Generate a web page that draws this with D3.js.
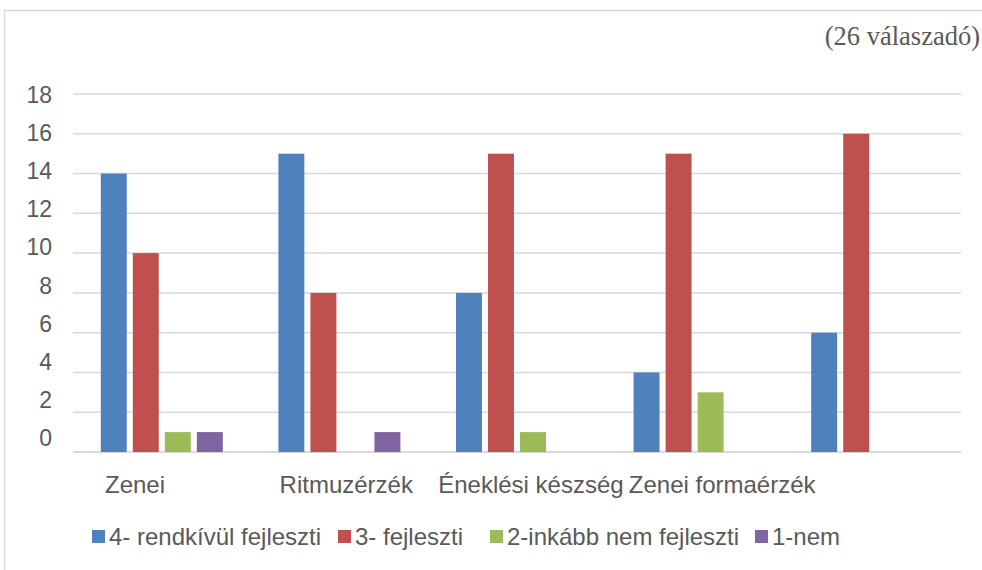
<!DOCTYPE html>
<html>
<head>
<meta charset="utf-8">
<script src="https://cdn.jsdelivr.net/npm/d3@7"></script>
<style>
  html, body { margin: 0; padding: 0; background: #fff; }
  svg { display: block; }
  text { font-family: "Liberation Sans", Arial, sans-serif; fill: #595959; }
</style>
</head>
<body>
<svg id="chart" width="982" height="570"></svg>
<script>
// ---- data ----
const categories = ["Zenei", "Ritmuzérzék", "Éneklési készség", "Zenei formaérzék", ""];
const seriesNames = ["4- rendkívül fejleszti", "3- fejleszti", "2-inkább nem fejleszti", "1-nem"];
const s4 = [14, 15, 8, 4, 6];
const s3 = [10, 8, 15, 15, 16];
const s2 = [1, 0, 1, 3, 0];
const s1 = [1, 1, 0, 0, 0];
const yTicks = [0, 2, 4, 6, 8, 10, 12, 14, 16, 18];
const subtitle = "(26 válaszadó)";

// ---- layout ----
const colors = ["#4F81BD", "#C0504D", "#9BBB59", "#8064A2"];
const series = [s4, s3, s2, s1];
const svg = d3.select("#chart");
const FS = 24;

// chart area border
svg.append("rect").attr("x", 4.5).attr("y", 10.5).attr("width", 990).attr("height", 580)
  .attr("fill", "none").attr("stroke", "#d9d9d9").attr("stroke-width", 1.5);

const plot = { left: 73, right: 961, top: 94, bottom: 452 };

const x0 = d3.scaleBand().domain(d3.range(categories.length))
  .range([plot.left, plot.right]).paddingInner(0).paddingOuter(0);
const x1 = d3.scaleBand().domain(d3.range(series.length))
  .range([0, 122]).paddingInner(0.19).paddingOuter(0);
const y = d3.scaleLinear().domain([0, 18]).range([plot.bottom, plot.top]);
// tick labels in the reference sit on a slightly tighter spacing than the gridlines
const yLab = d3.scaleLinear().domain([0, 18]).range([438, 95]);

// gridlines
svg.append("g").selectAll("line").data(yTicks).join("line")
  .attr("x1", plot.left).attr("x2", plot.right)
  .attr("y1", d => y(d)).attr("y2", d => y(d))
  .attr("stroke", "#d9d9d9").attr("stroke-width", d => d === 0 ? 2 : 1.5);

// y tick labels
svg.append("g").selectAll("text").data(yTicks).join("text")
  .attr("x", 52).attr("y", d => yLab(d)).attr("dy", "0.35em")
  .attr("text-anchor", "end").attr("font-size", 23)
  .text(d => d);

// bars
const groupOffset = (x0.bandwidth() - 122) / 2;
series.forEach((vals, si) => {
  const pts = vals.map((v, ci) => ({ v, ci })).filter(p => p.v > 0);
  svg.append("g").selectAll("rect").data(pts).join("rect")
    .attr("x", p => x0(p.ci) + groupOffset + x1(si))
    .attr("y", p => y(p.v))
    .attr("width", x1.bandwidth())
    .attr("height", p => y(0) - y(p.v))
    .attr("fill", colors[si]);
});

// category labels (left-aligned, nudged as in the reference)
const catNudge = [32, 29, 10, 23, 0];
svg.append("g").selectAll("text").data(categories).join("text")
  .attr("x", (d, i) => x0(i) + catNudge[i])
  .attr("y", 493)
  .attr("font-size", FS)
  .text(d => d);

// legend
const legendX = [92, 338, 490, 755];
const lg = svg.append("g").selectAll("g").data(seriesNames).join("g")
  .attr("transform", (d, i) => `translate(${legendX[i]},0)`);
lg.append("rect").attr("x", 0).attr("y", 530).attr("width", 13).attr("height", 13)
  .attr("fill", (d, i) => colors[i]);
lg.append("text").attr("x", 17).attr("y", 545).attr("font-size", FS).text(d => d);

// subtitle
svg.append("text").attr("x", 980).attr("y", 45).attr("text-anchor", "end")
  .style("font-family", "'Liberation Serif', 'Times New Roman', serif")
  .attr("font-size", 26.5).text(subtitle);
</script>
</body>
</html>
